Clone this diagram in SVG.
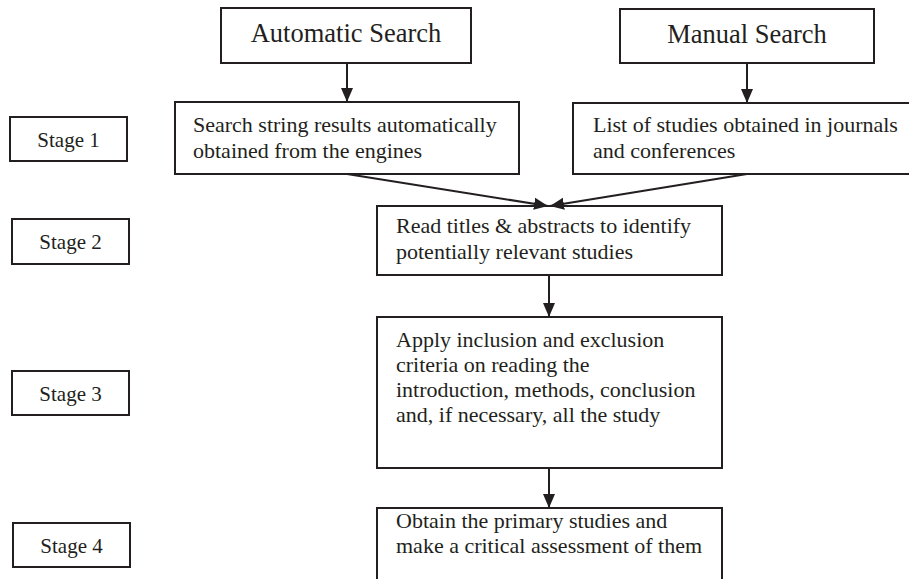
<svg xmlns="http://www.w3.org/2000/svg" width="909" height="579" viewBox="0 0 909 579">
<style>
.box{fill:#fff;stroke:#231f20;stroke-width:2}
.t{font-family:"Liberation Serif","Times New Roman",serif;fill:#231f20;font-size:22px}
.big{font-size:26.5px}
.stg{font-size:21px}
.c{stroke:#231f20;stroke-width:2;fill:none;marker-end:url(#ah)}
</style>
<defs>
<marker id="ah" markerUnits="userSpaceOnUse" markerWidth="14" markerHeight="14" viewBox="0 0 14 14" refX="14" refY="7" orient="auto">
<path d="M0,1 L14,7 L0,13 Z" fill="#231f20"/>
</marker>
</defs>
<rect width="909" height="579" fill="#fff"/>
<g id="auto"><rect class="box" x="221" y="8" width="250" height="55"/><text class="t big" x="346" y="42" text-anchor="middle">Automatic Search</text></g>
<g id="manual"><rect class="box" x="620" y="9" width="254" height="54"/><text class="t big" x="747" y="43" text-anchor="middle">Manual Search</text></g>
<g id="searchstring"><rect class="box" x="175" y="102" width="344" height="72"/><text class="t" x="193" y="132">Search string results automatically</text><text class="t" x="193" y="158">obtained from the engines</text></g>
<g id="list"><rect class="box" x="573" y="103" width="350" height="71"/><text class="t" x="593" y="132">List of studies obtained in journals</text><text class="t" x="593" y="158">and conferences</text></g>
<g id="read"><rect class="box" x="377" y="206" width="345" height="69"/><text class="t" x="396" y="233">Read titles &amp; abstracts to identify</text><text class="t" x="396" y="259">potentially relevant studies</text></g>
<g id="apply"><rect class="box" x="377" y="317" width="345" height="151"/><text class="t" x="396" y="347">Apply inclusion and exclusion</text><text class="t" x="396" y="372">criteria on reading the</text><text class="t" x="396" y="397">introduction, methods, conclusion</text><text class="t" x="396" y="422">and, if necessary, all the study</text></g>
<g id="obtain"><rect class="box" x="377" y="508" width="345" height="90"/><text class="t" x="396" y="528">Obtain the primary studies and</text><text class="t" x="396" y="553">make a critical assessment of them</text></g>
<g id="stage1"><rect class="box" x="10" y="117" width="117" height="44"/><text class="t stg" x="68.5" y="147" text-anchor="middle">Stage 1</text></g>
<g id="stage2"><rect class="box" x="12" y="219" width="117" height="45"/><text class="t stg" x="70.5" y="249" text-anchor="middle">Stage 2</text></g>
<g id="stage3"><rect class="box" x="12" y="371" width="117" height="44"/><text class="t stg" x="70.5" y="401" text-anchor="middle">Stage 3</text></g>
<g id="stage4"><rect class="box" x="13" y="523" width="117" height="44"/><text class="t stg" x="71.5" y="553" text-anchor="middle">Stage 4</text></g>
<g id="connectors">
<line class="c" x1="347" y1="63" x2="347" y2="102"/>
<line class="c" x1="747" y1="63" x2="747" y2="103"/>
<line class="c" x1="347" y1="174" x2="548" y2="206"/>
<line class="c" x1="747" y1="174" x2="550" y2="206"/>
<line class="c" x1="549" y1="275" x2="549" y2="317"/>
<line class="c" x1="549" y1="468" x2="549" y2="508"/>
</g>
</svg>
